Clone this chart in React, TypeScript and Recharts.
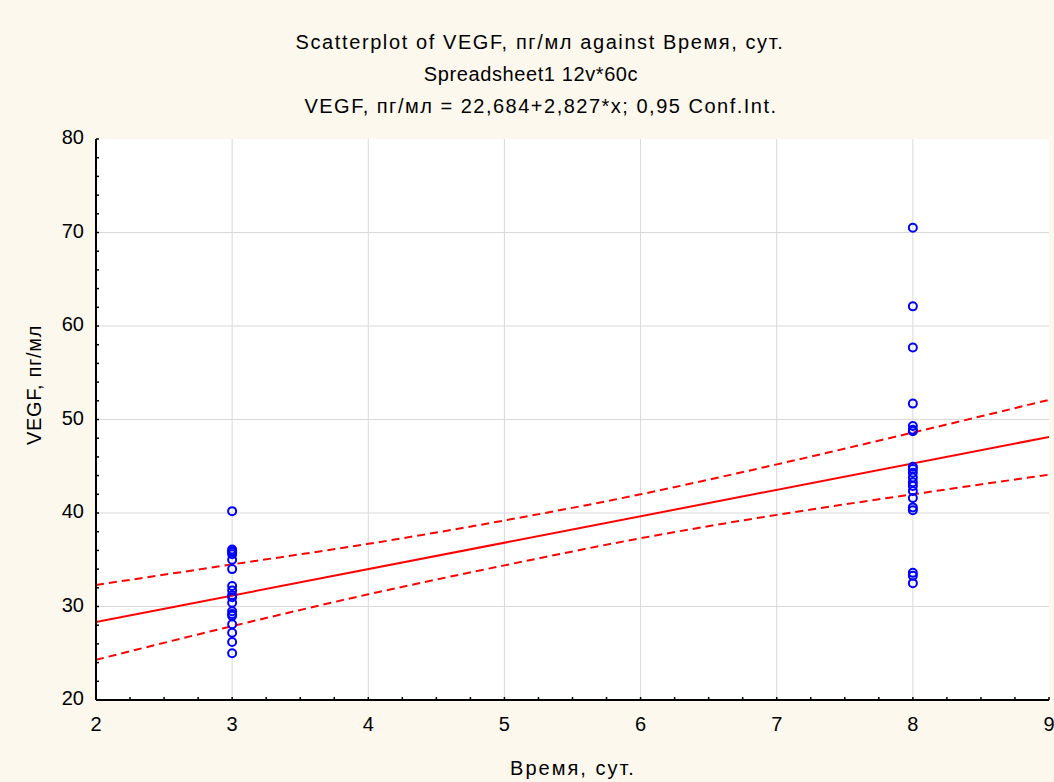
import React from 'react';
import { ComposedChart, Scatter, Line, XAxis, YAxis, CartesianGrid } from 'recharts';

const W = 1054;
const H = 782;
const FONT = '"Liberation Sans", Arial, sans-serif';

// VEGF readings (пг/мл) per day
const day3 = 3;
const day8 = 8;
const vegfDay3 = [40.2, 36.1, 35.9, 35.8, 35.6, 35.0, 34.0, 32.2, 31.7, 31.2, 31.0, 30.4, 29.5, 29.2, 29.0, 28.1, 27.2, 26.2, 25.0];
const vegfDay8 = [70.5, 62.1, 57.7, 51.7, 49.3, 48.9, 48.75, 44.95, 44.7, 44.3, 43.8, 43.3, 42.9, 42.35, 41.6, 40.6, 40.3, 33.6, 33.3, 32.5];

// regression line ends: 22,684 + 2,827*x
const fitX = [2, 9];
const fitY = [28.34, 48.13];

// 0,95 confidence band
const bandX = [2, 3, 4, 5, 6, 7, 8, 9];
const bandUpper = [32.3, 34.5, 36.7, 39.2, 42.0, 45.2, 48.6, 52.1];
const bandLower = [24.3, 27.9, 31.3, 34.4, 37.3, 39.8, 42.0, 44.1];

const xMajor = [2, 3, 4, 5, 6, 7, 8, 9];
const yMajor = [20, 30, 40, 50, 60, 70, 80];
const xMinor: number[] = [];
for (let v = 2; v <= 9.001; v += 0.25) xMinor.push(Math.round(v * 100) / 100);
const yMinor: number[] = [];
for (let v = 20; v <= 80; v += 2) yMinor.push(v);

const titles = [
  { text: 'Scatterplot of VEGF, пг/мл against Время, сут.', center: 540, spacing: 1.6 },
  { text: 'Spreadsheet1 12v*60c', center: 531, spacing: 0.6 },
  { text: 'VEGF, пг/мл = 22,684+2,827*x; 0,95 Conf.Int.', center: 541, spacing: 1.5 },
];

const points = [
  ...vegfDay3.map((y) => ({ x: day3, y })),
  ...vegfDay8.map((y) => ({ x: day8, y })),
];
const fitData = fitX.map((x, i) => ({ x, fit: fitY[i] }));
const bandData = bandX.map((x, i) => ({ x, upper: bandUpper[i], lower: bandLower[i] }));

const XTick = (props: any) => {
  const { x, y, payload } = props;
  if (!xMajor.includes(payload.value)) return <g />;
  return (
    <text x={x} y={y} dy="0.71em" textAnchor="middle" fontSize={20} fontFamily={FONT} fill="#000">
      {payload.value}
    </text>
  );
};

const YTick = (props: any) => {
  const { x, y, payload } = props;
  if (!yMajor.includes(payload.value)) return <g />;
  return (
    <text x={x} y={y - 2} dy="0.35em" textAnchor="end" fontSize={20} fontFamily={FONT} fill="#000">
      {payload.value}
    </text>
  );
};

const Ring = (props: any) => {
  const { cx, cy } = props;
  return <circle cx={cx} cy={cy} r={4} fill="none" stroke="#0000ff" strokeWidth={2} />;
};

const axisLine = { stroke: '#000', strokeWidth: 2 };
const tickLine = { stroke: '#000', strokeWidth: 1.5 };

export default function App() {
  return (
    <div
      style={{
        position: 'absolute',
        left: 0,
        top: 0,
        width: W,
        height: H,
        background: '#fdf8ee',
        fontFamily: FONT,
        color: '#000',
        overflow: 'hidden',
      }}
    >
      {/* titles */}
      {titles.map((t, i) => (
        <div
          key={i}
          style={{
            position: 'absolute',
            left: t.center - 400,
            width: 800,
            top: 30 + i * 32,
            textAlign: 'center',
            fontSize: 20,
            lineHeight: '24px',
            letterSpacing: t.spacing,
            whiteSpace: 'nowrap',
          }}
        >
          {t.text}
        </div>
      ))}

      <ComposedChart width={W} height={H} margin={{ top: 139, right: 5, bottom: 52, left: 36 }}>
        <CartesianGrid
          xAxisId="x"
          yAxisId="y"
          fill="#ffffff"
          stroke="#d9d9d9"
          strokeWidth={1}
          verticalValues={[3, 4, 5, 6, 7, 8]}
          horizontalValues={[30, 40, 50, 60, 70]}
        />
        <XAxis
          xAxisId="x"
          dataKey="x"
          type="number"
          domain={[2, 9]}
          allowDataOverflow
          ticks={xMinor}
          interval={0}
          height={30}
          tickSize={-3}
          tickMargin={20}
          tick={XTick}
          axisLine={axisLine}
          tickLine={tickLine}
        />
        <XAxis
          xAxisId="top"
          orientation="top"
          type="number"
          domain={[2, 9]}
          allowDataOverflow
          ticks={xMinor}
          interval={0}
          height={0}
          tickSize={-3}
          tick={false}
          axisLine={axisLine}
          tickLine={tickLine}
        />
        <YAxis
          yAxisId="y"
          dataKey="y"
          type="number"
          domain={[20, 80]}
          allowDataOverflow
          ticks={yMinor}
          interval={0}
          width={60}
          tickSize={-3}
          tickMargin={15}
          tick={YTick}
          axisLine={axisLine}
          tickLine={tickLine}
        />
        <YAxis
          yAxisId="right"
          orientation="right"
          type="number"
          domain={[20, 80]}
          allowDataOverflow
          ticks={yMinor}
          interval={0}
          width={0}
          tickSize={-3}
          tick={false}
          axisLine={axisLine}
          tickLine={tickLine}
        />
        <Line
          xAxisId="x"
          yAxisId="y"
          data={bandData}
          dataKey="upper"
          type="monotone"
          stroke="#ff0000"
          strokeWidth={2}
          strokeDasharray="8 5"
          dot={false}
          isAnimationActive={false}
        />
        <Line
          xAxisId="x"
          yAxisId="y"
          data={bandData}
          dataKey="lower"
          type="monotone"
          stroke="#ff0000"
          strokeWidth={2}
          strokeDasharray="8 5"
          dot={false}
          isAnimationActive={false}
        />
        <Line
          xAxisId="x"
          yAxisId="y"
          data={fitData}
          dataKey="fit"
          type="linear"
          stroke="#ff0000"
          strokeWidth={2}
          dot={false}
          isAnimationActive={false}
        />
        <Scatter
          xAxisId="x"
          yAxisId="y"
          data={points}
          dataKey="y"
          shape={Ring}
          isAnimationActive={false}
        />
      </ComposedChart>

      {/* axis titles */}
      <div
        style={{
          position: 'absolute',
          left: 473,
          width: 200,
          top: 756,
          textAlign: 'center',
          fontSize: 20,
          lineHeight: '24px',
          letterSpacing: 2,
        }}
      >
        Время, сут.
      </div>
      <div
        style={{
          position: 'absolute',
          left: 34,
          top: 385,
          transform: 'translate(-50%, -50%) rotate(-90deg)',
          fontSize: 20,
          lineHeight: '24px',
          letterSpacing: 0.7,
          whiteSpace: 'nowrap',
        }}
      >
        VEGF, пг/мл
      </div>
    </div>
  );
}
